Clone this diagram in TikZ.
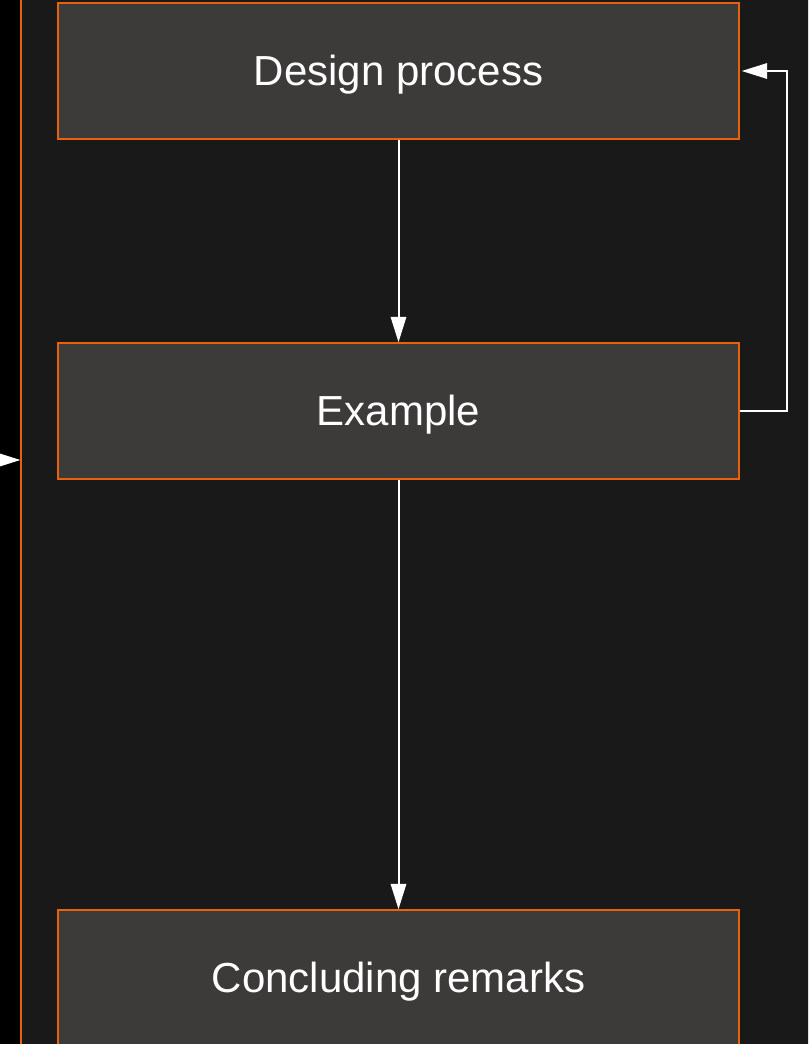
\documentclass[tikz,border=0pt]{standalone}
\usepackage{fontspec}
\setmainfont{Liberation Sans}
\usetikzlibrary{arrows.meta}
\definecolor{pagebg}{HTML}{000000}
\definecolor{panelbg}{HTML}{191919}
\definecolor{boxbg}{HTML}{3C3B3A}
\definecolor{edge}{HTML}{E8620C}
\tikzset{
  stagebox/.style={draw=edge, line width=1.1pt, fill=boxbg, text=white,
    minimum width=510.75pt, minimum height=102pt, inner sep=0pt,
    text height=22pt, text depth=0pt,
    font=\fontsize{31.5}{36}\selectfont},
  flow/.style={draw=white, line width=1.5pt,
    -{Triangle[length=19pt,width=11.5pt]}},
}
\begin{document}
\begin{tikzpicture}[x=0.75pt,y=-0.75pt]
  % page and clipping frame
  \fill[pagebg] (0,0) rectangle (808,1044);
  \clip (0,0) rectangle (808,1044);
  \useasboundingbox (0,0) rectangle (808,1044);
  % enclosing panel
  \fill[panelbg] (21,-20) rectangle (900,1100);
  \draw[edge, line width=1.4pt] (21,-20) rectangle (900,1100);
  \coordinate (panelwest) at (20.5,460);
  % stages
  \node[stagebox] (design) at (398.5,71) {Design process};
  \node[stagebox] (example) at (398.5,411) {Example};
  \node[stagebox] (concl) at (398.5,978) {Concluding remarks};
  % connectors
  \draw[flow] (design.south) -- (example.north);
  \draw[flow] (example.south) -- (concl.north);
  \draw[flow] (example.east) -| (787,71) -- ([xshift=1.5pt]design.east);
  \coordinate (incoming) at (-20,460);
  \draw[flow] (incoming) -- (panelwest);
\end{tikzpicture}
\end{document}
